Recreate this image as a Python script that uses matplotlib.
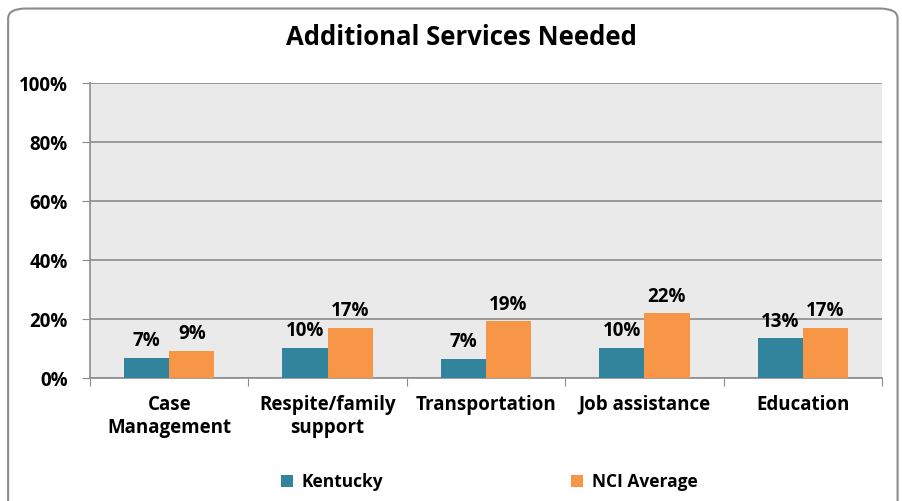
import numpy as np
import matplotlib
matplotlib.use('Agg')
import matplotlib.pyplot as plt
from matplotlib.patches import FancyBboxPatch

plt.rcParams['font.family'] = ['Open Sans', 'DejaVu Sans']

# data (percent)
categories = ['Case\nManagement', 'Respite/family\nsupport', 'Transportation',
              'Job assistance', 'Education']
kentucky = [6.7, 10.2, 6.6, 10.2, 13.4]
nci_average = [9.1, 16.9, 19.2, 21.9, 16.9]
ky_labels = ['7%', '10%', '7%', '10%', '13%']
nci_labels = ['9%', '17%', '19%', '22%', '17%']
series_names = ['Kentucky', 'NCI Average']
yticks = [0, 20, 40, 60, 80, 100]

teal = '#31849B'
orange = '#F79646'

fig = plt.figure(figsize=(9.03, 5.01), dpi=100)

# rounded chart frame
frame = FancyBboxPatch((0.009, -0.02), 0.985, 1.003, transform=fig.transFigure,
                       boxstyle='round,pad=0,rounding_size=0.02', fc='white',
                       ec='#8c8c8c', lw=1.5, zorder=-1)
fig.patches.append(frame)

ax = fig.add_axes([0.0997, 0.2455, 0.877, 0.5888])
ax.set_facecolor('#EAEAEA')

x = np.arange(len(categories))
w = 0.285
b1 = ax.bar(x - w / 2, kentucky, w, color=teal, label=series_names[0], zorder=3)
b2 = ax.bar(x + w / 2, nci_average, w, color=orange, label=series_names[1], zorder=3)

for bars, labels in ((b1, ky_labels), (b2, nci_labels)):
    for rect, lab in zip(bars, labels):
        ax.text(rect.get_x() + rect.get_width() / 2, rect.get_height() + 2.3, lab,
                ha='center', va='bottom', fontsize=13.5, fontweight='bold', zorder=4)

ax.set_ylim(0, 100)
ax.set_xlim(-0.5, len(categories) - 0.5)
ax.set_yticks(yticks)
ax.set_yticklabels([f'{t}%' for t in yticks], fontsize=13.5, fontweight='bold')
ax.yaxis.grid(True, color='#8c8c8c', lw=1.2, zorder=0)
ax.tick_params(axis='y', length=6, color='#8c8c8c', pad=10)

# category ticks at group boundaries, labels at centres
ax.set_xticks(np.arange(len(categories) + 1) - 0.5)
ax.set_xticklabels([])
ax.set_xticks(x, minor=True)
ax.set_xticklabels(categories, minor=True, fontsize=13.5, fontweight='bold',
                   linespacing=1.25, va='top')
ax.tick_params(axis='x', which='major', length=6, color='#8c8c8c')
ax.tick_params(axis='x', which='minor', length=0, pad=12)

for s in ['top', 'right']:
    ax.spines[s].set_visible(False)
for s in ['left', 'bottom']:
    ax.spines[s].set_color('#8c8c8c')
    ax.spines[s].set_linewidth(1.2)

fig.text(0.511, 0.926, 'Additional Services Needed', ha='center', va='center',
         fontsize=18.5, fontweight='bold')

fig.legend(handles=[b1, b2], labels=series_names, loc='center',
           bbox_to_anchor=(0.542, 0.038), ncol=2, frameon=False,
           prop={'size': 12.5, 'weight': 'bold'}, columnspacing=10.8,
           handlelength=0.7, handleheight=0.7, handletextpad=0.5)

fig.savefig('out.png', dpi=100)
